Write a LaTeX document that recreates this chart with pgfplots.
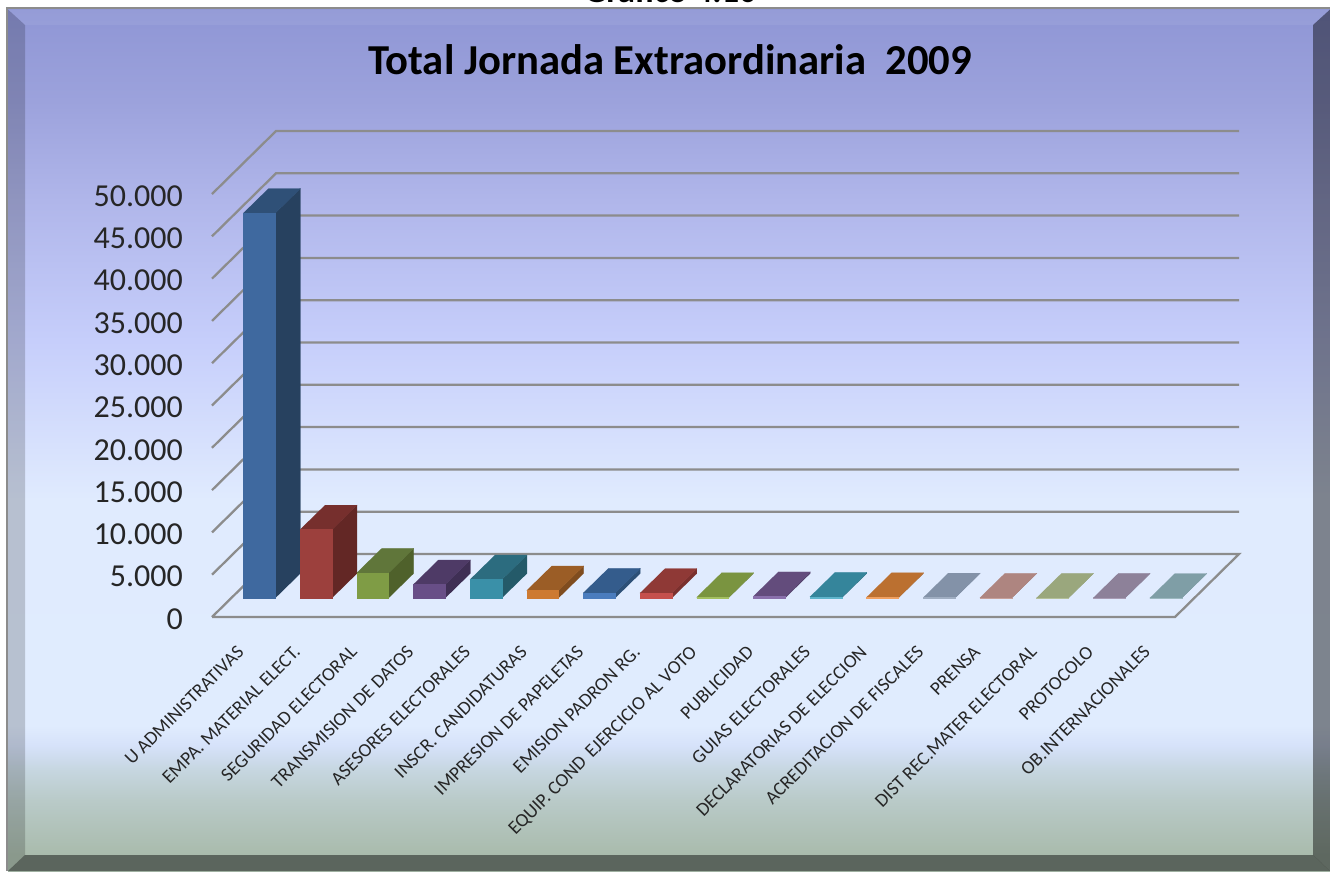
\documentclass[border=0pt]{standalone}
\usepackage{fontspec}
\setmainfont{Carlito}
\usepackage{pgfplots}
\usepackage{pgfplotstable}
\pgfplotsset{compat=1.18}
\definecolor{g0}{HTML}{A9BBAC}\definecolor{g1}{HTML}{B9CAC8}\definecolor{g2}{HTML}{C6D6E0}
\definecolor{g3}{HTML}{D6E2FA}\definecolor{g4}{HTML}{E0ECFE}\definecolor{g5}{HTML}{E0EBFE}
\definecolor{g6}{HTML}{C6CEFB}\definecolor{g7}{HTML}{B0B6EA}\definecolor{g8}{HTML}{9CA2DC}\definecolor{g9}{HTML}{8F96D5}
\pgfdeclareverticalshading{bg}{100bp}{color(0bp)=(g0);color(25.95bp)=(g0);color(29.1bp)=(g1);color(30.85bp)=(g2);color(32.3bp)=(g3);color(33.45bp)=(g4);color(46.5bp)=(g5);color(55.8bp)=(g6);color(63.9bp)=(g7);color(69.7bp)=(g8);color(75bp)=(g9);color(100bp)=(g9)}
\definecolor{gridc}{HTML}{8C8C8C}
% bar faces: w = across, h = height, d = depth
\pgfplotstableread{
w h d
0 0 0
1 0 0
1 1 0
0 1 0
}\frontface
\pgfplotstableread{
w h d
1 0 0
1 1 0
1 1 1
1 0 1
}\sideface
\pgfplotstableread{
w h d
0 1 0
1 1 0
1 1 1
0 1 1
}\topface
\newcommand{\threedbar}[5]{%
 \addplot[fill=#3,draw=#3,line width=0.2pt,no markers] table[x expr={#1-1+0.553+\thisrow{w}*0.565+\thisrow{d}*0.441},y expr={2235+\thisrow{h}*#2+\thisrow{d}*2889}] {\sideface};
 \addplot[fill=#4,draw=#4,line width=0.2pt,no markers] table[x expr={#1-1+0.553+\thisrow{w}*0.565+\thisrow{d}*0.441},y expr={2235+\thisrow{h}*#2+\thisrow{d}*2889}] {\topface};
 \addplot[fill=#5,draw=#5,line width=0.2pt,no markers] table[x expr={#1-1+0.553+\thisrow{w}*0.565+\thisrow{d}*0.441},y expr={2235+\thisrow{h}*#2+\thisrow{d}*2889}] {\frontface};
}
\begin{document}
\begin{tikzpicture}
\begin{scope}[x=0.75pt,y=-0.75pt]
\useasboundingbox (0,0) rectangle (1330,871);
\fill[white] (0,0) rectangle (1330,871);
\node[anchor=base,font=\bfseries\fontsize{26}{28}\selectfont,text=black,inner sep=0pt] at (670.5,2) {Gráfico 4.10};
\fill[gridc] (6,7) rectangle (1330,871);
\shade[shading=bg] (8,9.5) rectangle (1330,871);
\fill[black,opacity=.18] (8,9.5) -- (25,25) -- (25,855) -- (8,871) -- cycle;
\fill[black,opacity=.44] (1330,9.5) -- (1313,25) -- (1313,855) -- (1330,871) -- cycle;
\fill[white,opacity=.06] (8,9.5) -- (25,25) -- (1313,25) -- (1330,9.5) -- cycle;
\fill[black,opacity=.46] (8,871) -- (25,855) -- (1313,855) -- (1330,871) -- cycle;
\node[font=\bfseries\fontsize{32}{36}\selectfont,text=black,inner sep=0pt] at (670,60) {Total Jornada Extraordinaria\ \ 2009};
\end{scope}
\begin{axis}[
  at={(159pt,-462.75pt)},anchor=south west,
  scale only axis,width=722.25pt,height=317.25pt,
  clip=false,
  xmin=0,xmax=17,ymin=0,ymax=50000,
  axis line style={draw=none},tick style={draw=none},
  scaled y ticks=false,
  ytick={0,5000,10000,15000,20000,25000,30000,35000,40000,45000,50000},
  /pgf/number format/.cd,1000 sep={.},assume math mode=true,
  /pgfplots/.cd,
  yticklabel style={font=\fontsize{24}{26}\selectfont,text=black!85,xshift=-18.3pt,yshift=-1.5pt},
  xtick={0.5,1.5,2.5,3.5,4.5,5.5,6.5,7.5,8.5,9.5,10.5,11.5,12.5,13.5,14.5,15.5,16.5},
  xticklabels={U ADMINISTRATIVAS,EMPA. MATERIAL ELECT.,SEGURIDAD ELECTORAL,TRANSMISION DE DATOS,ASESORES ELECTORALES,INSCR. CANDIDATURAS,IMPRESION DE PAPELETAS,EMISION PADRON RG.,EQUIP. COND\hspace{.12em} EJERCICIO AL VOTO,PUBLICIDAD,GUIAS ELECTORALES,DECLARATORIAS DE ELECCION,ACREDITACION DE FISCALES,PRENSA,DIST REC.MATER ELECTORAL,PROTOCOLO,OB.INTERNACIONALES},
  xticklabel style={font=\fontsize{14.3}{16}\selectfont,text=black!85,rotate=45,anchor=north east,inner sep=0pt,xshift=-16.7pt,yshift=-12.1pt},
]
\addplot[gridc,line width=1.7pt,no markers] coordinates {(0,0) (17,0) (18.13,7447) (1.13,7447) (0,0)};
\addplot[gridc,line width=1.7pt,no markers] coordinates {(0,5000) (1.13,12447) (18.13,12447)};
\addplot[gridc,line width=1.7pt,no markers] coordinates {(0,10000) (1.13,17447) (18.13,17447)};
\addplot[gridc,line width=1.7pt,no markers] coordinates {(0,15000) (1.13,22447) (18.13,22447)};
\addplot[gridc,line width=1.7pt,no markers] coordinates {(0,20000) (1.13,27447) (18.13,27447)};
\addplot[gridc,line width=1.7pt,no markers] coordinates {(0,25000) (1.13,32447) (18.13,32447)};
\addplot[gridc,line width=1.7pt,no markers] coordinates {(0,30000) (1.13,37447) (18.13,37447)};
\addplot[gridc,line width=1.7pt,no markers] coordinates {(0,35000) (1.13,42447) (18.13,42447)};
\addplot[gridc,line width=1.7pt,no markers] coordinates {(0,40000) (1.13,47447) (18.13,47447)};
\addplot[gridc,line width=1.7pt,no markers] coordinates {(0,45000) (1.13,52447) (18.13,52447)};
\addplot[gridc,line width=1.7pt,no markers] coordinates {(0,50000) (1.13,57447) (18.13,57447)};
\definecolor{s1}{HTML}{27415F}\definecolor{t1}{HTML}{2F5077}\definecolor{f1}{HTML}{3F699F}
\definecolor{s2}{HTML}{632725}\definecolor{t2}{HTML}{762F2D}\definecolor{f2}{HTML}{9C403D}
\definecolor{s3}{HTML}{4F612B}\definecolor{t3}{HTML}{60763A}\definecolor{f3}{HTML}{7F9C45}
\definecolor{s4}{HTML}{3F2F54}\definecolor{t4}{HTML}{4E3A66}\definecolor{f4}{HTML}{684E87}
\definecolor{s5}{HTML}{245A69}\definecolor{t5}{HTML}{2C6C7F}\definecolor{f5}{HTML}{3A90A8}
\definecolor{s6}{HTML}{7F4C1F}\definecolor{t6}{HTML}{9B5D26}\definecolor{f6}{HTML}{CD7A32}
\definecolor{s7}{HTML}{2D5077}\definecolor{t7}{HTML}{345C8C}\definecolor{f7}{HTML}{4A7CBE}
\definecolor{s8}{HTML}{7A302E}\definecolor{t8}{HTML}{8F3936}\definecolor{f8}{HTML}{C5504D}
\definecolor{s9}{HTML}{6B8238}\definecolor{t9}{HTML}{7A9440}\definecolor{f9}{HTML}{A3C060}
\definecolor{s10}{HTML}{53406B}\definecolor{t10}{HTML}{634C7C}\definecolor{f10}{HTML}{8A70AC}
\definecolor{s11}{HTML}{2E7588}\definecolor{t11}{HTML}{35859B}\definecolor{f11}{HTML}{5FB5CC}
\definecolor{s12}{HTML}{A4622A}\definecolor{t12}{HTML}{BB7030}\definecolor{f12}{HTML}{F0A060}
\definecolor{s13}{HTML}{74829A}\definecolor{t13}{HTML}{8392A8}\definecolor{f13}{HTML}{A0AEC2}
\definecolor{s14}{HTML}{9E7670}\definecolor{t14}{HTML}{AE8580}\definecolor{f14}{HTML}{C6A09A}
\definecolor{s15}{HTML}{8A976E}\definecolor{t15}{HTML}{9AA77D}\definecolor{f15}{HTML}{B4C09A}
\definecolor{s16}{HTML}{7E728A}\definecolor{t16}{HTML}{8D8199}\definecolor{f16}{HTML}{A89CB4}
\definecolor{s17}{HTML}{708F97}\definecolor{t17}{HTML}{7F9EA6}\definecolor{f17}{HTML}{9CB8BF}
\threedbar{1}{45517}{s1}{t1}{f1}
\threedbar{2}{8100}{s2}{t2}{f2}
\threedbar{3}{2985}{s3}{t3}{f3}
\threedbar{4}{1615}{s4}{t4}{f4}
\threedbar{5}{2200}{s5}{t5}{f5}
\threedbar{6}{900}{s6}{t6}{f6}
\threedbar{7}{620}{s7}{t7}{f7}
\threedbar{8}{590}{s8}{t8}{f8}
\threedbar{9}{100}{s9}{t9}{f9}
\threedbar{10}{200}{s10}{t10}{f10}
\threedbar{11}{150}{s11}{t11}{f11}
\threedbar{12}{100}{s12}{t12}{f12}
\threedbar{13}{60}{s13}{t13}{f13}
\threedbar{14}{40}{s14}{t14}{f14}
\threedbar{15}{30}{s15}{t15}{f15}
\threedbar{16}{20}{s16}{t16}{f16}
\threedbar{17}{10}{s17}{t17}{f17}
\end{axis}
\end{tikzpicture}
\end{document}
